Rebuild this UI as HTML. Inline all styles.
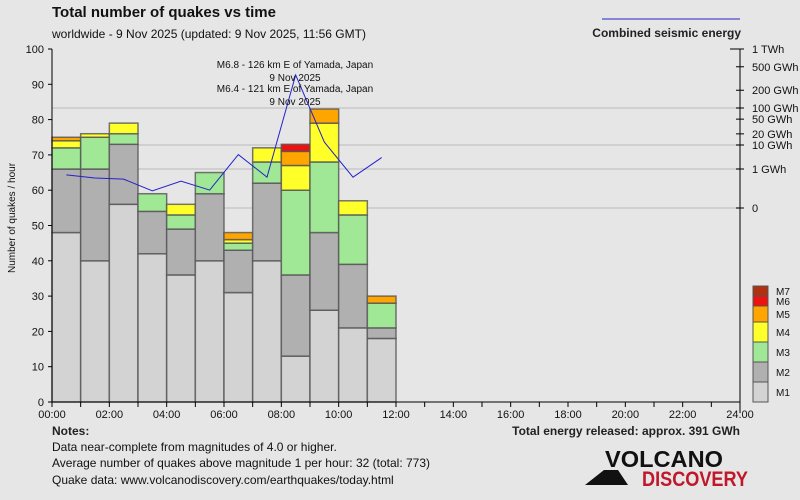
<!DOCTYPE html>
<html><head><meta charset="utf-8">
<style>
html,body{margin:0;padding:0;background:#e6e6e6;}
svg{display:block;font-family:"Liberation Sans Narrow","Liberation Sans",sans-serif;}
</style></head>
<body>
<svg id="chart" width="800" height="500" xmlns="http://www.w3.org/2000/svg">
<rect width="800" height="500" fill="#e6e6e6"/>
<text x="52" y="17" font-size="15" font-weight="bold" fill="#111">Total number of quakes vs time</text>
<text x="52" y="38" font-size="12" fill="#111">worldwide -  9 Nov 2025 (updated: 9 Nov 2025, 11:56 GMT)</text>
<line x1="602" y1="19" x2="740" y2="19" stroke="#2222cc" stroke-width="1"/>
<text x="741" y="37" font-size="12" font-weight="bold" fill="#222" text-anchor="end">Combined seismic energy</text>
<g id="grid"></g>
<g id="bars"></g>
<g id="axes"></g>
<g id="energy"></g>
<g id="legend"></g>
<text x="22" y="225" font-size="10" fill="#111" transform="rotate(-90 15 225)" text-anchor="middle">Number of quakes / hour</text>
<text x="52" y="435" font-size="12" font-weight="bold" fill="#222">Notes:</text>
<text x="52" y="451" font-size="12" fill="#111">Data near-complete from magnitudes of 4.0 or higher.</text>
<text x="52" y="467" font-size="12" fill="#111">Average number of quakes above magnitude 1 per hour: 32 (total: 773)</text>
<text x="52" y="484" font-size="12" fill="#111">Quake data: www.volcanodiscovery.com/earthquakes/today.html</text>
<text x="740" y="435" font-size="12" font-weight="bold" fill="#222" text-anchor="end">Total energy released: approx. 391 GWh</text>
<g>
<polygon points="585,485 604,470 618,470 628,485" fill="#111"/>
<text x="605" y="467" font-size="23" font-weight="bold" fill="#111" textLength="118" lengthAdjust="spacingAndGlyphs">VOLCANO</text>
<text x="642" y="486" font-size="21" font-weight="bold" fill="#c0182a" textLength="106" lengthAdjust="spacingAndGlyphs">DISCOVERY</text>
</g>
</svg>
<script>
// data
const hours = [0,1,2,3,4,5,6,7,8,9,10,11];
const m1 = [48,40,56,42,36,40,31,40,13,26,21,18];
const m2 = [18,26,17,12,13,19,12,22,23,22,18,3];
const m3 = [6,9,3,5,4,6,2,6,24,20,14,7];
const m4 = [2,1,3,0,3,0,1,4,7,11,4,0];
const m5 = [1,0,0,0,0,0,2,0,4,4,0,2];
const m6 = [0,0,0,0,0,0,0,0,2,0,0,0];
const m7 = [0,0,0,0,0,0,0,0,0,0,0,0];
const energyGWh = [0.85,0.77,0.74,0.44,0.69,0.46,4,0.79,363,12,0.79,3];
const xTickLabels = ["00:00","02:00","04:00","06:00","08:00","10:00","12:00","14:00","16:00","18:00","20:00","22:00","24:00"];
const yTicks = [0,10,20,30,40,50,60,70,80,90,100];
const eTickLabels = ["1 TWh","500 GWh","200 GWh","100 GWh","50 GWh","20 GWh","10 GWh","1 GWh","0"];
const eTickValues = [1000,500,200,100,50,20,10,1,0];

const NS="http://www.w3.org/2000/svg";
const X0=52,X1=740,Y0=402,Y1=49;
const xs=h=>X0+(X1-X0)*h/24;
const ys=v=>Y0-(Y0-Y1)*v/100;
const ye=E=>{ if(E<=0) return 208; if(E<1) return 208-39*E;
  const L=Math.log10(E); const pts=[[0,169],[1,145],[2,108],[3,49]];
  for(let i=0;i<3;i++){ if(L<=pts[i+1][0]){const t=(L-pts[i][0]);return pts[i][1]+(pts[i+1][1]-pts[i][1])*t;} }
  return 49; };
function mk(tag,attrs,parent,txt){const e=document.createElementNS(NS,tag);for(const k in attrs)e.setAttribute(k,attrs[k]);if(txt!==undefined)e.textContent=txt;parent.appendChild(e);return e;}
const grid=document.getElementById('grid'),bars=document.getElementById('bars'),axes=document.getElementById('axes'),en=document.getElementById('energy'),leg=document.getElementById('legend');

[100,10,1,0].forEach(v=>{const l=mk('line',{x1:X0,x2:X1,y1:ye(v),y2:ye(v),stroke:'#d0d0d0','stroke-width':2},grid);

});

const series=[m1,m2,m3,m4,m5,m6,m7];
const colors=["#d3d3d3","#b0b0b0","#a0e896","#ffff2a","#ffa500","#ee1111","#b03010"];
const names=["M1","M2","M3","M4","M5","M6","M7"];
hours.forEach((h,i)=>{let base=0;
  series.forEach((s,k)=>{const v=s[i]; if(v<=0) return;
    const r=mk('rect',{x:xs(h),y:ys(base+v),width:xs(h+1)-xs(h),height:ys(base)-ys(base+v),fill:colors[k],stroke:'#555',"stroke-width":1.5,"stroke-opacity":0.8},bars);
    
    
    base+=v;});
});

// axes
let a=mk('line',{x1:X0,x2:X0,y1:Y1,y2:Y0,stroke:'#000'},axes);


a=mk('line',{x1:X0,x2:X1,y1:Y0,y2:Y0,stroke:'#000'},axes);


a=mk('line',{x1:X1,x2:X1,y1:Y1,y2:Y0+10,stroke:'#000'},axes);


a=mk('line',{x1:X1-10,x2:X1,y1:Y1,y2:Y1,stroke:'#000'},axes);


yTicks.forEach(v=>{mk('line',{x1:X0-4,x2:X0,y1:ys(v),y2:ys(v),stroke:'#000'},axes);
  const t=mk('text',{x:X0-8,y:ys(v)+4,'font-size':11,'text-anchor':'end',fill:'#111'},axes,String(v));
  
  });
for(let h=0;h<=24;h++){mk('line',{x1:xs(h),x2:xs(h),y1:Y0,y2:Y0+5,stroke:'#000'},axes);}
xTickLabels.forEach((s,i)=>{const t=mk('text',{x:xs(i*2),y:Y0+16,'font-size':11,'text-anchor':'middle',fill:'#111'},axes,s);
  
  });
eTickValues.forEach((v,i)=>{const y=v>=1000?49:ye(v);
  mk('line',{x1:X1-4,x2:X1+4,y1:y,y2:y,stroke:'#000'},axes);
  const t=mk('text',{x:X1+12,y:y+4,'font-size':11,fill:'#111'},axes,eTickLabels[i]);
  
  });

// energy line
const pts=hours.map((h,i)=>xs(h+0.5)+','+ye(energyGWh[i])).join(' ');
const pl=mk('polyline',{points:pts,fill:'none',stroke:'#2222cc','stroke-width':1},en);


const ann=[["M6.8 - 126 km E of Yamada, Japan",68],["9 Nov 2025",81],["M6.4 - 121 km E of Yamada, Japan",92],["9 Nov 2025",105]];
ann.forEach(a=>{const t=mk('text',{x:295,y:a[1],'font-size':10,'text-anchor':'middle',fill:'#111'},en,a[0]);
  
  });

// legend
const lb=[[286,296],[296,306],[306,322],[322,342],[342,362],[362,382],[382,402]];
for(let k=6;k>=0;k--){const b=lb[6-k];
  const r=mk('rect',{x:753,y:b[0],width:15,height:b[1]-b[0],fill:colors[k],stroke:'#555'},leg);
  
  
  const t=mk('text',{x:776,y:(b[0]+b[1])/2+4,'font-size':10,fill:'#111'},leg,names[k]);
  
  }
</script>
</body></html>
